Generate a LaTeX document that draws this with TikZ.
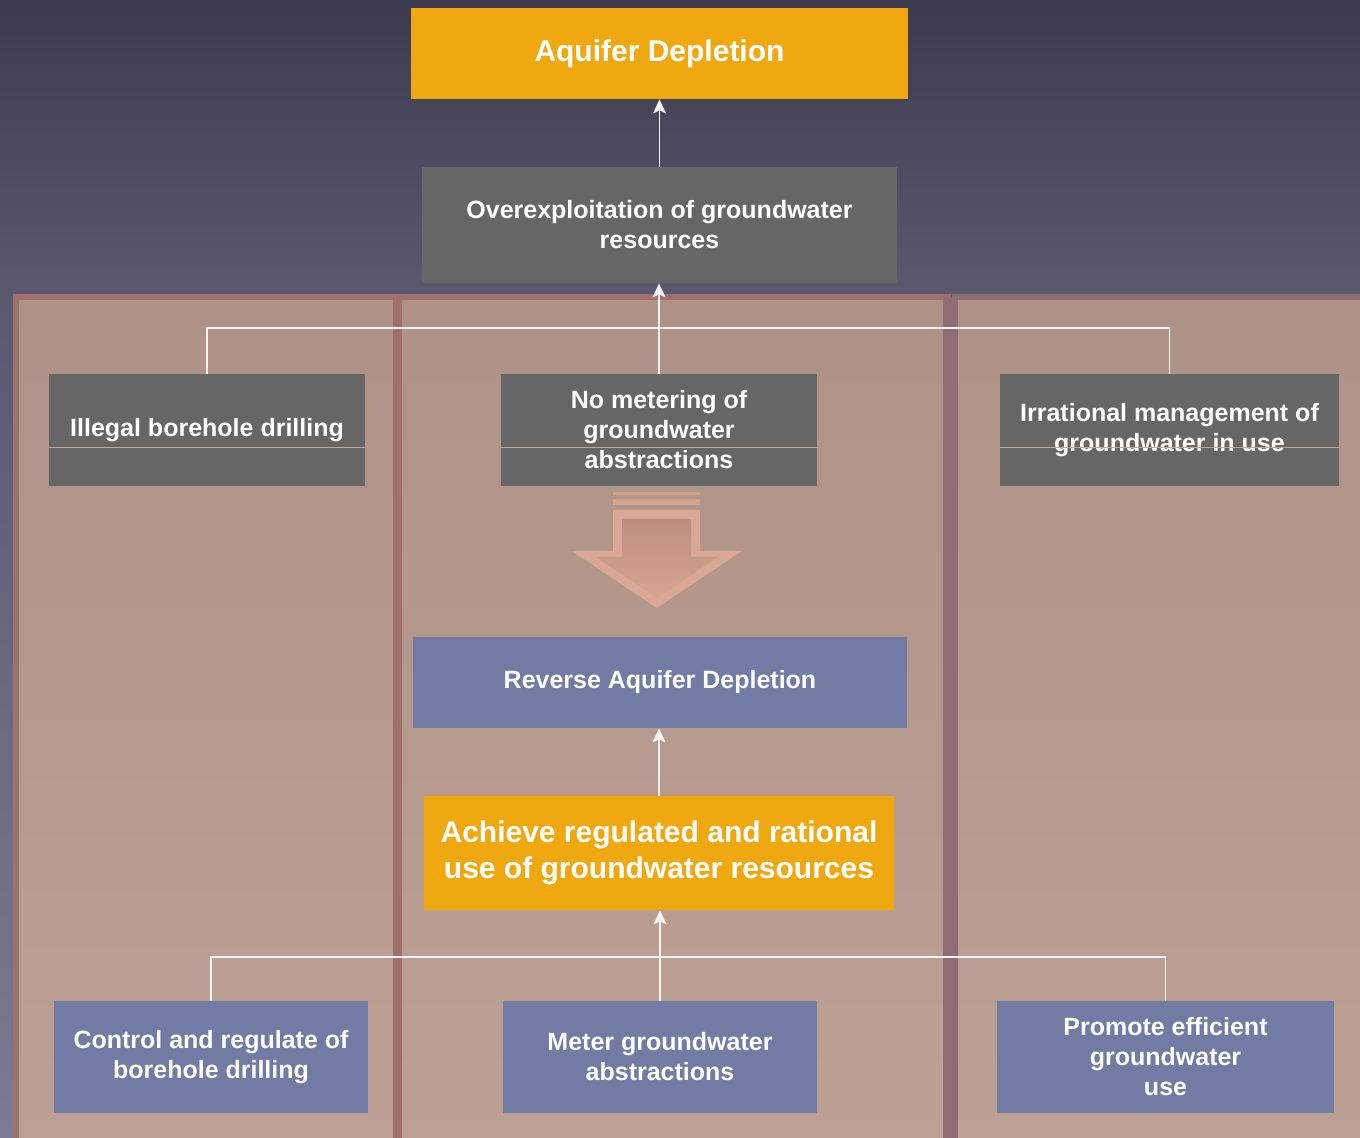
\documentclass[tikz,border=0pt]{standalone}
\usepackage{fontspec}
\setmainfont{Liberation Sans}
\usetikzlibrary{arrows.meta}
\definecolor{gold}{RGB}{240,168,17}
\definecolor{causegrey}{RGB}{102,102,102}
\definecolor{fixblue}{RGB}{113,123,163}
\definecolor{skytop}{RGB}{60,58,78}
\definecolor{skymid}{RGB}{90,89,112}
\definecolor{skybot}{RGB}{124,121,150}
\definecolor{pantop}{RGB}{174,146,134}
\definecolor{panbot}{RGB}{190,161,149}
\definecolor{rim}{RGB}{160,112,108}
\definecolor{rimdark}{RGB}{142,110,116}
\definecolor{salmon}{RGB}{218,168,148}
\definecolor{salmondk}{RGB}{186,142,128}

\begin{document}
\begin{tikzpicture}[x=0.5pt,y=-0.5pt,
  box/.style={inner sep=0pt,align=center,text=white,
    font=\bfseries\fontsize{12.5}{15}\selectfont},
  cause/.style={box,fill=causegrey,minimum height=56pt},
  fix/.style={box,fill=fixblue,minimum height=56pt},
  wire/.style={draw=white!92!gray,line width=0.7pt},
  tip/.style={wire,-{Stealth[length=7pt,width=6.5pt,inset=1.5pt]}},
  seam/.style={draw=pantop!80!white,line width=0.4pt},
]
\shade[top color=skytop,bottom color=skymid] (0,0) rectangle (1360,300);
\shade[top color=skymid,bottom color=skybot] (0,300) rectangle (1360,1138);
\useasboundingbox (0,0) rectangle (1360,1138);

\draw[rim,line width=3pt,shade,top color=pantop,bottom color=panbot]
  (16,297) rectangle (396,1145);
\draw[rim,line width=3pt,shade,top color=pantop,bottom color=panbot]
  (399,297) rectangle (948,1145);
\draw[rimdark,line width=3pt,shade,top color=pantop,bottom color=panbot]
  (955,297) rectangle (1370,1145);
\draw[rim,line width=4pt] (397,297) -- (397,1145);
\draw[rimdark,line width=7pt] (950,297) -- (950,1145);

\fill[salmon,opacity=.8] (613,492) rectangle (700,495);
\fill[salmon,opacity=.8] (613,499) rectangle (700,505);
\fill[salmon] (572,551) -- (613,551) -- (613,510) -- (700,510) -- (700,551)
  -- (742,551) -- (657,608) -- cycle;
\shade[top color=salmondk,bottom color=salmon!90!salmondk]
  (596,557) -- (622,557) -- (622,519) -- (691,519) -- (691,557)
  -- (718,557) -- (657,598) -- cycle;

\node[box,fill=gold,minimum width=248.5pt,minimum height=45.5pt,
  font=\bfseries\fontsize{15}{18}\selectfont] (aq) at (659.5,53.5) {Aquifer Depletion};
\node[box,fill=causegrey,minimum width=237.5pt,minimum height=58pt]
  (ov) at (659.5,225) {Overexploitation of groundwater\\resources};
\node[cause,minimum width=158pt] (c1) at (207,430) {Illegal borehole drilling};
\node[cause,minimum width=158pt] (c2) at (659,430) {No metering of\\groundwater\\abstractions};
\node[cause,minimum width=169.5pt] (c3) at (1169.5,430) {Irrational management of\\groundwater in use};

\node[box,fill=fixblue,minimum width=247pt,minimum height=45.5pt]
  (rv) at (660,682.5) {Reverse Aquifer Depletion};
\node[box,fill=gold,minimum width=235pt,minimum height=57pt,
  font=\bfseries\fontsize{15}{18}\selectfont]
  (ac) at (659,853) {Achieve regulated and rational\\use of groundwater resources};
\node[fix,minimum width=157pt] (s1) at (211,1057) {Control and regulate of\\borehole drilling};
\node[fix,minimum width=157pt] (s2) at (660,1057) {Meter groundwater\\abstractions};
\node[fix,minimum width=168.5pt] (s3) at (1165.5,1057) {Promote efficient\\groundwater\\use};

\draw[seam] (49,447) -- (365,447);
\draw[seam] (501,447) -- (817,447);
\draw[seam] (1000,447) -- (1339,447);

\coordinate (j1) at (659,328);
\coordinate (j2) at (660,957);
\draw[tip] (ov.north) -- (aq.south);
\draw[wire] (c1.north) |- (j1) -| (c3.north);
\draw[tip] (c2.north) -- (c2.north |- ov.south);
\draw[tip] (ac.north) -- (ac.north |- rv.south);
\draw[wire] (s1.north) |- (j2) -| (s3.north);
\draw[tip] (s2.north) -- (s2.north |- ac.south);
\end{tikzpicture}
\end{document}
